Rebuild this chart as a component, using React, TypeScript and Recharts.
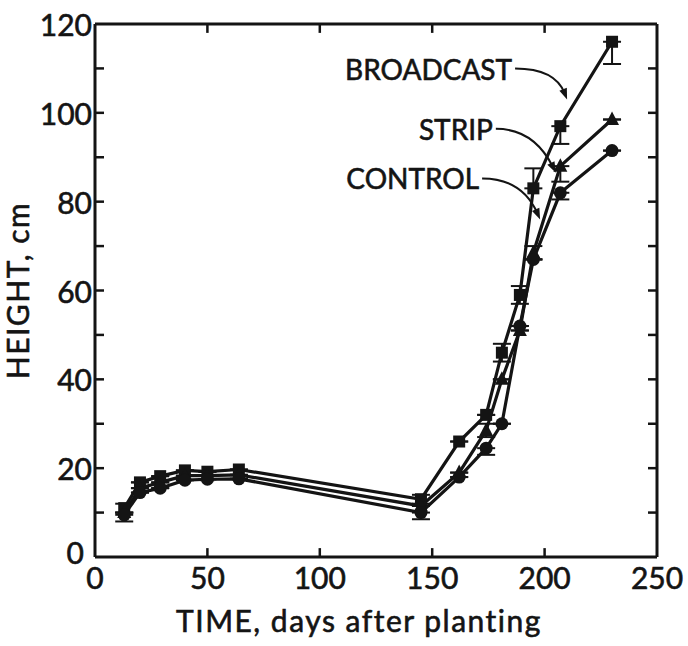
import {
  ErrorBar,
  Label,
  Line,
  LineChart,
  ReferenceDot,
  ReferenceLine,
  XAxis,
  YAxis,
} from "recharts";

const INK = "#141414";
const FONT = "Lato, 'DejaVu Sans', sans-serif";

// days after planting
const DAYS = [13, 20, 29, 40, 50, 64, 145, 162, 174, 181, 189, 195, 207, 230];
// heights, cm
const BROADCAST = [11, 16.8, 18.2, 19.5, 19.2, 19.7, 13, 26, 32, 46, 59, 83, 97, 116];
const STRIP = [10, 15.5, 16.8, 18.3, 18.3, 18.5, 11.5, 19, 28.5, 40, 51, 68.5, 88, 98.5];
const CONTROL = [9.5, 14.5, 15.5, 17.3, 17.5, 17.6, 10, 18, 24.5, 30, 52, 67, 82, 91.5];
// [below, above]
const BROADCAST_ERR: [number, number][] = [
  [1, 1], [0, 0], [0, 0], [0, 0], [0, 0], [0, 0], [1, 1], [0, 0], [0, 0], [2, 2], [2, 2], [0, 4.5], [4, 0], [5, 0],
];
const STRIP_ERR: [number, number][] = [
  [0, 0], [0, 0], [0, 0], [0, 0], [0, 0], [0, 0], [0, 0], [0, 0], [1.5, 1.5], [0, 0], [0, 0], [1.5, 1.5], [3.5, 0], [0, 0],
];
const CONTROL_ERR: [number, number][] = [
  [1.5, 0], [0, 0], [0, 0], [0, 0], [0, 0], [0, 0], [1.5, 0], [0, 0], [1.5, 0], [0, 0], [0, 0], [0, 0], [1.5, 0], [0, 0],
];

const Y_LABEL_TICKS = [0, 20, 40, 60, 80, 100, 120];
const Y_MINOR_TICKS = [10, 20, 30, 40, 50, 60, 70, 80, 90, 100, 110];
const X_LABEL_TICKS = [0, 50, 100, 150, 200, 250];
const X_INNER_TICKS = [50, 100, 150, 200];
const X_MAX = 250;
const Y_MAX = 120;
const X_TICK_LEN = 2; // in height units
const Y_TICK_LEN = 4; // in day units

// callouts: label, arrow tip (data coords)
const CALLOUTS = [
  { name: "BROADCAST", day: 210, height: 103 },
  { name: "STRIP", day: 205, height: 86.5 },
  { name: "CONTROL", day: 198, height: 76 },
];
// pixel offsets for text end + curve control, relative to tip
const CALLOUT_GEOM: Record<string, { tx: number; ty: number; qx: number; qy: number }> = {
  BROADCAST: { tx: -55, ty: -31, qx: -12, qy: -31 },
  STRIP: { tx: -63, ty: -44, qx: -22, qy: -44 },
  CONTROL: { tx: -61, ty: -41, qx: -18, qy: -41 },
};

const chartData = DAYS.map((day, i) => ({
  day,
  broadcast: BROADCAST[i],
  strip: STRIP[i],
  control: CONTROL[i],
  bErr: BROADCAST_ERR[i],
  sErr: STRIP_ERR[i],
  cErr: CONTROL_ERR[i],
}));

const SquareDot = (p: any) =>
  p.cx == null ? null : (
    <rect key={`sq-${p.index}`} x={p.cx - 6} y={p.cy - 6} width={12} height={12} fill={INK} />
  );
const TriangleDot = (p: any) =>
  p.cx == null ? null : (
    <polygon
      key={`tr-${p.index}`}
      points={`${p.cx},${p.cy - 8} ${p.cx + 7},${p.cy + 5.5} ${p.cx - 7},${p.cy + 5.5}`}
      fill={INK}
    />
  );
const CircleDot = (p: any) =>
  p.cx == null ? null : <circle key={`ci-${p.index}`} cx={p.cx} cy={p.cy} r={6.5} fill={INK} />;

const Callout = (p: any) => {
  const { cx, cy, name } = p;
  if (cx == null) return null;
  const g = CALLOUT_GEOM[name];
  const sx = g.tx + 3;
  const sy = g.ty;
  // arrow head along end tangent
  const dx = -g.qx;
  const dy = -g.qy;
  const len = Math.hypot(dx, dy);
  const ux = dx / len;
  const uy = dy / len;
  const bx = -ux * 11;
  const by = -uy * 11;
  const head = `0,0 ${bx - uy * 4},${by + ux * 4} ${bx + uy * 4},${by - ux * 4}`;
  return (
    <g transform={`translate(${cx},${cy})`}>
      <text
        x={g.tx}
        y={g.ty}
        textAnchor="end"
        dominantBaseline="central"
        fontFamily={FONT}
        fontSize={28}
        fill={INK}
        stroke={INK}
        strokeWidth={0.6}
      >
        {name}
      </text>
      <path d={`M${sx},${sy} Q${g.qx},${g.qy} ${bx * 0.6},${by * 0.6}`} fill="none" stroke={INK} strokeWidth={2} />
      <polygon points={head} fill={INK} />
    </g>
  );
};

const YTick = (p: any) => {
  const zero = p.payload.value === 0;
  return (
    <text
      x={p.x + (zero ? -8 : 0)}
      y={p.y + (zero ? -5 : 0)}
      textAnchor="end"
      dominantBaseline="central"
      fontFamily={FONT}
      fontSize={30}
      fill={INK}
      stroke={INK}
      strokeWidth={0.6}
    >
      {p.payload.value}
    </text>
  );
};

const tickStyle = { fontSize: 30, fill: INK, fontFamily: FONT, stroke: INK, strokeWidth: 0.6 };
const titleStyle = {
  fontSize: 30,
  fill: INK,
  fontFamily: FONT,
  textAnchor: "middle" as const,
  letterSpacing: 1.5,
  stroke: INK,
  strokeWidth: 0.6,
};
const tickLine = { stroke: INK, strokeWidth: 2.5 };

export default function App() {
  return (
    <div style={{ position: "absolute", left: 0, top: 0, background: "#fff" }}>
      <LineChart width={688} height={646} data={chartData} margin={{ top: 24, right: 31, left: 0, bottom: 0 }}>
        <XAxis
          dataKey="day"
          type="number"
          domain={[0, X_MAX]}
          ticks={X_LABEL_TICKS}
          height={89}
          tickSize={0}
          tickMargin={11}
          tickLine={false}
          axisLine={{ stroke: INK, strokeWidth: 3 }}
          tick={tickStyle}
        >
          <Label value="TIME, days after planting" position="insideBottom" offset={14} dx={-17} style={titleStyle} />
        </XAxis>
        <YAxis
          type="number"
          domain={[0, Y_MAX]}
          ticks={Y_LABEL_TICKS}
          width={95}
          tickSize={0}
          tickMargin={3}
          tickLine={false}
          axisLine={{ stroke: INK, strokeWidth: 3 }}
          tick={<YTick />}
        >
          <Label value="HEIGHT, cm" angle={-90} position="insideLeft" offset={23} dx={-5} style={titleStyle} />
        </YAxis>

        {/* frame: top and right */}
        <ReferenceLine y={Y_MAX} stroke={INK} strokeWidth={3} />
        <ReferenceLine x={X_MAX} stroke={INK} strokeWidth={3} />
        {/* inward ticks */}
        {X_INNER_TICKS.map((t) => (
          <ReferenceLine key={`xb-${t}`} segment={[{ x: t, y: 0 }, { x: t, y: X_TICK_LEN }]} {...tickLine} />
        ))}
        {X_INNER_TICKS.map((t) => (
          <ReferenceLine key={`xt-${t}`} segment={[{ x: t, y: Y_MAX }, { x: t, y: Y_MAX - X_TICK_LEN }]} {...tickLine} />
        ))}
        {Y_MINOR_TICKS.map((t) => (
          <ReferenceLine key={`yl-${t}`} segment={[{ x: 0, y: t }, { x: Y_TICK_LEN, y: t }]} {...tickLine} />
        ))}
        {Y_MINOR_TICKS.map((t) => (
          <ReferenceLine key={`yr-${t}`} segment={[{ x: X_MAX, y: t }, { x: X_MAX - Y_TICK_LEN, y: t }]} {...tickLine} />
        ))}

        <Line dataKey="broadcast" stroke={INK} strokeWidth={3.2} dot={SquareDot} isAnimationActive={false}>
          <ErrorBar dataKey="bErr" direction="y" width={9} stroke={INK} strokeWidth={2} />
        </Line>
        <Line dataKey="strip" stroke={INK} strokeWidth={3.2} dot={TriangleDot} isAnimationActive={false}>
          <ErrorBar dataKey="sErr" direction="y" width={9} stroke={INK} strokeWidth={2} />
        </Line>
        <Line dataKey="control" stroke={INK} strokeWidth={3.2} dot={CircleDot} isAnimationActive={false}>
          <ErrorBar dataKey="cErr" direction="y" width={9} stroke={INK} strokeWidth={2} />
        </Line>

        {CALLOUTS.map((c) => (
          <ReferenceDot
            key={c.name}
            x={c.day}
            y={c.height}
            r={0}
            shape={(p: any) => <Callout {...p} name={c.name} />}
          />
        ))}
      </LineChart>
    </div>
  );
}
